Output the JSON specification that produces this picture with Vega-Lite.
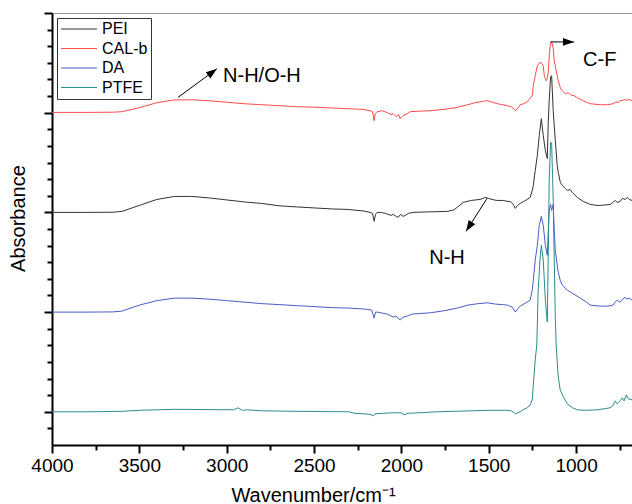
{
  "$schema": "https://vega.github.io/schema/vega-lite/v6.json",
  "width": 580,
  "height": 432,
  "autosize": {"type": "none"},
  "padding": {"left": 52, "top": 13, "right": 0, "bottom": 59},
  "background": "white",
  "config": {
    "view": {"stroke": "#999999", "strokeWidth": 1},
    "font": "Liberation Sans",
    "legend": {
      "orient": "none",
      "legendX": 5,
      "legendY": 5,
      "title": null,
      "symbolType": "stroke",
      "symbolSize": 1296,
      "symbolStrokeWidth": 1.2,
      "clipHeight": 16,
      "rowPadding": 3.5,
      "padding": 3,
      "labelOffset": 4,
      "labelFont": "Liberation Sans",
      "labelFontSize": 16,
      "labelColor": "black",
      "strokeColor": "#333333",
      "fillColor": "white"
    }
  },
  "datasets": {
    "spectra": [
      {"s":"PEI","x":4000,"y":2.00},{"s":"PEI","x":3800,"y":2.00},{"s":"PEI","x":3650,"y":2.002},{"s":"PEI","x":3600,"y":2.01},{"s":"PEI","x":3500,"y":2.07},{"s":"PEI","x":3400,"y":2.13},{"s":"PEI","x":3300,"y":2.16},{"s":"PEI","x":3200,"y":2.16},{"s":"PEI","x":3100,"y":2.145},{"s":"PEI","x":3000,"y":2.125},{"s":"PEI","x":2900,"y":2.105},{"s":"PEI","x":2800,"y":2.09},{"s":"PEI","x":2694,"y":2.065},{"s":"PEI","x":2600,"y":2.055},{"s":"PEI","x":2500,"y":2.045},{"s":"PEI","x":2400,"y":2.035},{"s":"PEI","x":2311,"y":2.03},{"s":"PEI","x":2220,"y":2.015},{"s":"PEI","x":2180,"y":2.00},{"s":"PEI","x":2165,"y":1.99},{"s":"PEI","x":2156,"y":1.91},{"s":"PEI","x":2148,"y":1.98},{"s":"PEI","x":2139,"y":2.00},{"s":"PEI","x":2122,"y":2.00},{"s":"PEI","x":2090,"y":1.99},{"s":"PEI","x":2060,"y":1.97},{"s":"PEI","x":2047,"y":1.98},{"s":"PEI","x":2030,"y":1.96},{"s":"PEI","x":2018,"y":1.95},{"s":"PEI","x":2005,"y":1.98},{"s":"PEI","x":1990,"y":1.96},{"s":"PEI","x":1978,"y":1.97},{"s":"PEI","x":1960,"y":1.99},{"s":"PEI","x":1933,"y":2.00},{"s":"PEI","x":1850,"y":2.005},{"s":"PEI","x":1738,"y":2.01},{"s":"PEI","x":1700,"y":2.025},{"s":"PEI","x":1681,"y":2.05},{"s":"PEI","x":1647,"y":2.10},{"s":"PEI","x":1600,"y":2.12},{"s":"PEI","x":1550,"y":2.13},{"s":"PEI","x":1520,"y":2.15},{"s":"PEI","x":1500,"y":2.14},{"s":"PEI","x":1470,"y":2.125},{"s":"PEI","x":1452,"y":2.12},{"s":"PEI","x":1420,"y":2.12},{"s":"PEI","x":1390,"y":2.11},{"s":"PEI","x":1377,"y":2.11},{"s":"PEI","x":1360,"y":2.08},{"s":"PEI","x":1348,"y":2.04},{"s":"PEI","x":1335,"y":2.07},{"s":"PEI","x":1320,"y":2.09},{"s":"PEI","x":1300,"y":2.11},{"s":"PEI","x":1280,"y":2.13},{"s":"PEI","x":1263,"y":2.15},{"s":"PEI","x":1251,"y":2.22},{"s":"PEI","x":1245,"y":2.27},{"s":"PEI","x":1234,"y":2.42},{"s":"PEI","x":1222,"y":2.57},{"s":"PEI","x":1211,"y":2.77},{"s":"PEI","x":1199,"y":2.94},{"s":"PEI","x":1188,"y":2.77},{"s":"PEI","x":1176,"y":2.62},{"s":"PEI","x":1165,"y":2.54},{"s":"PEI","x":1159,"y":2.92},{"s":"PEI","x":1154,"y":3.12},{"s":"PEI","x":1146,"y":3.36},{"s":"PEI","x":1140,"y":3.37},{"s":"PEI","x":1131,"y":3.02},{"s":"PEI","x":1119,"y":2.72},{"s":"PEI","x":1108,"y":2.47},{"s":"PEI","x":1102,"y":2.40},{"s":"PEI","x":1090,"y":2.30},{"s":"PEI","x":1079,"y":2.27},{"s":"PEI","x":1062,"y":2.24},{"s":"PEI","x":1050,"y":2.22},{"s":"PEI","x":1035,"y":2.23},{"s":"PEI","x":1022,"y":2.20},{"s":"PEI","x":993,"y":2.15},{"s":"PEI","x":959,"y":2.11},{"s":"PEI","x":919,"y":2.08},{"s":"PEI","x":880,"y":2.07},{"s":"PEI","x":862,"y":2.07},{"s":"PEI","x":805,"y":2.08},{"s":"PEI","x":790,"y":2.10},{"s":"PEI","x":776,"y":2.12},{"s":"PEI","x":765,"y":2.10},{"s":"PEI","x":748,"y":2.11},{"s":"PEI","x":735,"y":2.14},{"s":"PEI","x":720,"y":2.13},{"s":"PEI","x":708,"y":2.15},{"s":"PEI","x":695,"y":2.13},{"s":"PEI","x":680,"y":2.12},

      {"s":"CAL-b","x":4000,"y":3.003},{"s":"CAL-b","x":3800,"y":3.003},{"s":"CAL-b","x":3650,"y":3.005},{"s":"CAL-b","x":3600,"y":3.01},{"s":"CAL-b","x":3500,"y":3.05},{"s":"CAL-b","x":3400,"y":3.10},{"s":"CAL-b","x":3300,"y":3.128},{"s":"CAL-b","x":3200,"y":3.13},{"s":"CAL-b","x":3100,"y":3.12},{"s":"CAL-b","x":3000,"y":3.105},{"s":"CAL-b","x":2900,"y":3.09},{"s":"CAL-b","x":2800,"y":3.08},{"s":"CAL-b","x":2700,"y":3.07},{"s":"CAL-b","x":2600,"y":3.06},{"s":"CAL-b","x":2500,"y":3.055},{"s":"CAL-b","x":2400,"y":3.047},{"s":"CAL-b","x":2300,"y":3.04},{"s":"CAL-b","x":2220,"y":3.033},{"s":"CAL-b","x":2180,"y":3.02},{"s":"CAL-b","x":2165,"y":3.01},{"s":"CAL-b","x":2156,"y":2.92},{"s":"CAL-b","x":2150,"y":2.99},{"s":"CAL-b","x":2139,"y":3.01},{"s":"CAL-b","x":2110,"y":3.02},{"s":"CAL-b","x":2080,"y":3.00},{"s":"CAL-b","x":2060,"y":2.98},{"s":"CAL-b","x":2047,"y":2.99},{"s":"CAL-b","x":2030,"y":2.96},{"s":"CAL-b","x":2015,"y":2.98},{"s":"CAL-b","x":2007,"y":2.94},{"s":"CAL-b","x":1990,"y":2.97},{"s":"CAL-b","x":1967,"y":2.99},{"s":"CAL-b","x":1950,"y":3.01},{"s":"CAL-b","x":1900,"y":3.015},{"s":"CAL-b","x":1835,"y":3.02},{"s":"CAL-b","x":1750,"y":3.035},{"s":"CAL-b","x":1681,"y":3.053},{"s":"CAL-b","x":1620,"y":3.08},{"s":"CAL-b","x":1580,"y":3.10},{"s":"CAL-b","x":1530,"y":3.115},{"s":"CAL-b","x":1509,"y":3.12},{"s":"CAL-b","x":1480,"y":3.105},{"s":"CAL-b","x":1450,"y":3.09},{"s":"CAL-b","x":1420,"y":3.08},{"s":"CAL-b","x":1394,"y":3.07},{"s":"CAL-b","x":1370,"y":3.06},{"s":"CAL-b","x":1348,"y":3.02},{"s":"CAL-b","x":1330,"y":3.05},{"s":"CAL-b","x":1320,"y":3.08},{"s":"CAL-b","x":1300,"y":3.09},{"s":"CAL-b","x":1280,"y":3.11},{"s":"CAL-b","x":1265,"y":3.14},{"s":"CAL-b","x":1251,"y":3.17},{"s":"CAL-b","x":1245,"y":3.27},{"s":"CAL-b","x":1234,"y":3.37},{"s":"CAL-b","x":1222,"y":3.47},{"s":"CAL-b","x":1210,"y":3.50},{"s":"CAL-b","x":1200,"y":3.503},{"s":"CAL-b","x":1188,"y":3.47},{"s":"CAL-b","x":1182,"y":3.37},{"s":"CAL-b","x":1171,"y":3.32},{"s":"CAL-b","x":1165,"y":3.34},{"s":"CAL-b","x":1159,"y":3.42},{"s":"CAL-b","x":1154,"y":3.57},{"s":"CAL-b","x":1146,"y":3.71},{"s":"CAL-b","x":1140,"y":3.71},{"s":"CAL-b","x":1131,"y":3.65},{"s":"CAL-b","x":1125,"y":3.52},{"s":"CAL-b","x":1114,"y":3.42},{"s":"CAL-b","x":1102,"y":3.32},{"s":"CAL-b","x":1090,"y":3.25},{"s":"CAL-b","x":1079,"y":3.22},{"s":"CAL-b","x":1062,"y":3.19},{"s":"CAL-b","x":1045,"y":3.20},{"s":"CAL-b","x":1033,"y":3.18},{"s":"CAL-b","x":1010,"y":3.17},{"s":"CAL-b","x":993,"y":3.15},{"s":"CAL-b","x":959,"y":3.12},{"s":"CAL-b","x":919,"y":3.09},{"s":"CAL-b","x":862,"y":3.08},{"s":"CAL-b","x":820,"y":3.08},{"s":"CAL-b","x":788,"y":3.09},{"s":"CAL-b","x":770,"y":3.11},{"s":"CAL-b","x":760,"y":3.10},{"s":"CAL-b","x":748,"y":3.12},{"s":"CAL-b","x":735,"y":3.125},{"s":"CAL-b","x":720,"y":3.13},{"s":"CAL-b","x":708,"y":3.125},{"s":"CAL-b","x":695,"y":3.135},{"s":"CAL-b","x":680,"y":3.12},

      {"s":"DA","x":4000,"y":1.00},{"s":"DA","x":3800,"y":1.00},{"s":"DA","x":3650,"y":1.002},{"s":"DA","x":3600,"y":1.01},{"s":"DA","x":3500,"y":1.07},{"s":"DA","x":3400,"y":1.115},{"s":"DA","x":3300,"y":1.14},{"s":"DA","x":3200,"y":1.14},{"s":"DA","x":3100,"y":1.13},{"s":"DA","x":3000,"y":1.115},{"s":"DA","x":2900,"y":1.10},{"s":"DA","x":2800,"y":1.085},{"s":"DA","x":2700,"y":1.075},{"s":"DA","x":2600,"y":1.065},{"s":"DA","x":2500,"y":1.055},{"s":"DA","x":2400,"y":1.045},{"s":"DA","x":2300,"y":1.04},{"s":"DA","x":2207,"y":1.03},{"s":"DA","x":2170,"y":1.02},{"s":"DA","x":2156,"y":0.94},{"s":"DA","x":2148,"y":1.00},{"s":"DA","x":2139,"y":1.00},{"s":"DA","x":2110,"y":0.99},{"s":"DA","x":2080,"y":0.98},{"s":"DA","x":2047,"y":0.95},{"s":"DA","x":2030,"y":0.96},{"s":"DA","x":2007,"y":0.92},{"s":"DA","x":1990,"y":0.95},{"s":"DA","x":1967,"y":0.96},{"s":"DA","x":1940,"y":0.98},{"s":"DA","x":1900,"y":0.985},{"s":"DA","x":1835,"y":0.993},{"s":"DA","x":1750,"y":1.015},{"s":"DA","x":1681,"y":1.04},{"s":"DA","x":1620,"y":1.07},{"s":"DA","x":1560,"y":1.085},{"s":"DA","x":1509,"y":1.093},{"s":"DA","x":1460,"y":1.08},{"s":"DA","x":1420,"y":1.075},{"s":"DA","x":1394,"y":1.07},{"s":"DA","x":1365,"y":1.05},{"s":"DA","x":1348,"y":1.00},{"s":"DA","x":1330,"y":1.04},{"s":"DA","x":1320,"y":1.06},{"s":"DA","x":1290,"y":1.09},{"s":"DA","x":1263,"y":1.12},{"s":"DA","x":1251,"y":1.22},{"s":"DA","x":1245,"y":1.32},{"s":"DA","x":1234,"y":1.52},{"s":"DA","x":1222,"y":1.67},{"s":"DA","x":1211,"y":1.87},{"s":"DA","x":1199,"y":1.96},{"s":"DA","x":1188,"y":1.87},{"s":"DA","x":1176,"y":1.67},{"s":"DA","x":1165,"y":1.57},{"s":"DA","x":1159,"y":1.82},{"s":"DA","x":1154,"y":2.02},{"s":"DA","x":1146,"y":2.08},{"s":"DA","x":1140,"y":2.02},{"s":"DA","x":1131,"y":2.08},{"s":"DA","x":1125,"y":1.82},{"s":"DA","x":1119,"y":1.62},{"s":"DA","x":1108,"y":1.47},{"s":"DA","x":1102,"y":1.40},{"s":"DA","x":1091,"y":1.32},{"s":"DA","x":1079,"y":1.27},{"s":"DA","x":1050,"y":1.22},{"s":"DA","x":1022,"y":1.19},{"s":"DA","x":976,"y":1.14},{"s":"DA","x":940,"y":1.10},{"s":"DA","x":919,"y":1.07},{"s":"DA","x":862,"y":1.06},{"s":"DA","x":820,"y":1.06},{"s":"DA","x":788,"y":1.07},{"s":"DA","x":776,"y":1.10},{"s":"DA","x":765,"y":1.12},{"s":"DA","x":750,"y":1.10},{"s":"DA","x":736,"y":1.12},{"s":"DA","x":720,"y":1.15},{"s":"DA","x":710,"y":1.13},{"s":"DA","x":695,"y":1.14},{"s":"DA","x":680,"y":1.12},

      {"s":"PTFE","x":4000,"y":0.0},{"s":"PTFE","x":3800,"y":0.0},{"s":"PTFE","x":3600,"y":0.005},{"s":"PTFE","x":3500,"y":0.015},{"s":"PTFE","x":3400,"y":0.02},{"s":"PTFE","x":3300,"y":0.025},{"s":"PTFE","x":3100,"y":0.022},{"s":"PTFE","x":2960,"y":0.02},{"s":"PTFE","x":2935,"y":0.04},{"s":"PTFE","x":2910,"y":0.015},{"s":"PTFE","x":2880,"y":0.02},{"s":"PTFE","x":2800,"y":0.01},{"s":"PTFE","x":2600,"y":0.005},{"s":"PTFE","x":2400,"y":0.002},{"s":"PTFE","x":2300,"y":0.0},{"s":"PTFE","x":2270,"y":-0.015},{"s":"PTFE","x":2220,"y":-0.02},{"s":"PTFE","x":2180,"y":-0.025},{"s":"PTFE","x":2160,"y":-0.04},{"s":"PTFE","x":2150,"y":-0.02},{"s":"PTFE","x":2100,"y":-0.015},{"s":"PTFE","x":2050,"y":-0.01},{"s":"PTFE","x":2000,"y":-0.01},{"s":"PTFE","x":1985,"y":-0.03},{"s":"PTFE","x":1960,"y":-0.015},{"s":"PTFE","x":1900,"y":-0.01},{"s":"PTFE","x":1800,"y":0.0},{"s":"PTFE","x":1700,"y":0.005},{"s":"PTFE","x":1600,"y":0.01},{"s":"PTFE","x":1500,"y":0.015},{"s":"PTFE","x":1400,"y":0.015},{"s":"PTFE","x":1370,"y":0.01},{"s":"PTFE","x":1348,"y":-0.02},{"s":"PTFE","x":1320,"y":0.0},{"s":"PTFE","x":1303,"y":0.02},{"s":"PTFE","x":1280,"y":0.04},{"s":"PTFE","x":1263,"y":0.07},{"s":"PTFE","x":1251,"y":0.12},{"s":"PTFE","x":1245,"y":0.27},{"s":"PTFE","x":1234,"y":0.52},{"s":"PTFE","x":1225,"y":0.67},{"s":"PTFE","x":1217,"y":1.22},{"s":"PTFE","x":1205,"y":1.57},{"s":"PTFE","x":1199,"y":1.67},{"s":"PTFE","x":1188,"y":1.52},{"s":"PTFE","x":1176,"y":1.12},{"s":"PTFE","x":1165,"y":0.90},{"s":"PTFE","x":1159,"y":1.62},{"s":"PTFE","x":1154,"y":2.32},{"s":"PTFE","x":1146,"y":2.70},{"s":"PTFE","x":1140,"y":2.70},{"s":"PTFE","x":1131,"y":2.12},{"s":"PTFE","x":1125,"y":1.52},{"s":"PTFE","x":1119,"y":0.95},{"s":"PTFE","x":1114,"y":0.67},{"s":"PTFE","x":1108,"y":0.50},{"s":"PTFE","x":1102,"y":0.35},{"s":"PTFE","x":1091,"y":0.22},{"s":"PTFE","x":1073,"y":0.15},{"s":"PTFE","x":1051,"y":0.08},{"s":"PTFE","x":1020,"y":0.04},{"s":"PTFE","x":993,"y":0.02},{"s":"PTFE","x":950,"y":0.015},{"s":"PTFE","x":879,"y":0.02},{"s":"PTFE","x":840,"y":0.03},{"s":"PTFE","x":805,"y":0.04},{"s":"PTFE","x":790,"y":0.06},{"s":"PTFE","x":776,"y":0.11},{"s":"PTFE","x":765,"y":0.08},{"s":"PTFE","x":759,"y":0.09},{"s":"PTFE","x":748,"y":0.11},{"s":"PTFE","x":736,"y":0.14},{"s":"PTFE","x":725,"y":0.11},{"s":"PTFE","x":713,"y":0.17},{"s":"PTFE","x":700,"y":0.13},{"s":"PTFE","x":680,"y":0.12}
    ],
    "arrows": [
      {"id":"a1","x":3279,"y":3.153,"x2":3056,"y2":3.44},
      {"id":"a2","x":1144,"y":3.71,"x2":1012,"y2":3.71},
      {"id":"a3","x":1510,"y":2.14,"x2":1630,"y2":1.81}
    ],
    "labels": [
      {"t":"N-H/O-H","x":3021,"y":3.37},
      {"t":"C-F","x":960,"y":3.527},
      {"t":"N-H","x":1739,"y":1.54}
    ]
  },
  "resolve": {"axis": {"x": "independent", "y": "independent"}},
  "layer": [
    {
      "data": {"name": "spectra"},
      "mark": {"type": "line", "strokeWidth": 1, "interpolate": "linear"},
      "encoding": {
        "x": {
          "field": "x", "type": "quantitative",
          "scale": {"domain": [680, 4000], "reverse": true, "nice": false, "zero": false},
          "axis": {
            "orient": "bottom",
            "values": [4000, 3500, 3000, 2500, 2000, 1500, 1000],
            "format": "d",
            "grid": false,
            "domainColor": "black", "domainWidth": 2,
            "tickColor": "black", "tickWidth": 2, "tickSize": 8,
            "labelFont": "Liberation Sans", "labelFontSize": 19, "labelColor": "black", "labelPadding": 3,
            "labelFlush": false, "labelOverlap": false,
            "title": "Wavenumber/cm⁻¹",
            "titleFont": "Liberation Sans", "titleFontSize": 20, "titleFontWeight": "normal", "titleColor": "black",
            "titleX": 261, "titleY": 56, "titleAlign": "center", "titleBaseline": "alphabetic"
          }
        },
        "y": {
          "field": "y", "type": "quantitative",
          "scale": {"domain": [-0.333, 4], "nice": false, "zero": false},
          "axis": {
            "orient": "left",
            "values": [0, 1, 2, 3, 4],
            "labels": false,
            "grid": false,
            "domainColor": "black", "domainWidth": 2,
            "tickColor": "black", "tickWidth": 2, "tickSize": 8,
            "title": "Absorbance",
            "titleFont": "Liberation Sans", "titleFontSize": 20, "titleFontWeight": "normal", "titleColor": "black",
            "titleX": -34, "titleY": 205, "titleAlign": "center", "titleBaseline": "middle", "titleAngle": -90
          }
        },
        "color": {
          "field": "s", "type": "nominal",
          "scale": {"domain": ["PEI", "CAL-b", "DA", "PTFE"], "range": ["#333333", "#ff4a4a", "#4a5cc8", "#2b8c8c"]},
          "legend": {}
        },
        "order": {"field": "x", "type": "quantitative"}
      }
    },
    {
      "data": {"name": "arrows"},
      "mark": {"type": "rule", "color": "black", "strokeWidth": 1},
      "encoding": {
        "x": {
          "field": "x", "type": "quantitative",
          "axis": {
            "orient": "bottom",
            "values": [3750, 3250, 2750, 2250, 1750, 1250, 750],
            "labels": false, "domain": false, "grid": false,
            "tickColor": "black", "tickWidth": 2, "tickSize": 5, "title": null
          }
        },
        "y": {
          "field": "y", "type": "quantitative",
          "axis": {
            "orient": "left",
            "values": [-0.1667, 0.1667, 0.3333, 0.5, 0.6667, 0.8333, 1.1667, 1.3333, 1.5, 1.6667, 1.8333, 2.1667, 2.3333, 2.5, 2.6667, 2.8333, 3.1667, 3.3333, 3.5, 3.6667, 3.8333],
            "labels": false, "domain": false, "grid": false,
            "tickColor": "black", "tickWidth": 2, "tickSize": 5, "title": null
          }
        },
        "x2": {"field": "x2"},
        "y2": {"field": "y2"}
      }
    },
    {
      "data": {"name": "arrows"},
      "transform": [{"filter": "datum.id == 'a1'"}],
      "mark": {"type": "point", "shape": "M0,0 L0.35,1 L-0.35,1 Z", "size": 484, "filled": true, "color": "black", "opacity": 1, "angle": 53.6},
      "encoding": {
        "x": {"field": "x2", "type": "quantitative", "axis": null},
        "y": {"field": "y2", "type": "quantitative", "axis": null}
      }
    },
    {
      "data": {"name": "arrows"},
      "transform": [{"filter": "datum.id == 'a2'"}],
      "mark": {"type": "point", "shape": "M0,0 L0.35,1 L-0.35,1 Z", "size": 484, "filled": true, "color": "black", "opacity": 1, "angle": 90},
      "encoding": {
        "x": {"field": "x2", "type": "quantitative", "axis": null},
        "y": {"field": "y2", "type": "quantitative", "axis": null}
      }
    },
    {
      "data": {"name": "arrows"},
      "transform": [{"filter": "datum.id == 'a3'"}],
      "mark": {"type": "point", "shape": "M0,0 L0.35,1 L-0.35,1 Z", "size": 484, "filled": true, "color": "black", "opacity": 1, "angle": 212.5},
      "encoding": {
        "x": {"field": "x2", "type": "quantitative", "axis": null},
        "y": {"field": "y2", "type": "quantitative", "axis": null}
      }
    },
    {
      "data": {"name": "labels"},
      "transform": [{"filter": "datum.t != 'N-H'"}],
      "mark": {"type": "text", "font": "Liberation Sans", "fontSize": 20, "color": "black", "align": "left", "baseline": "middle"},
      "encoding": {
        "x": {"field": "x", "type": "quantitative", "axis": null},
        "y": {"field": "y", "type": "quantitative", "axis": null},
        "text": {"field": "t"}
      }
    },
    {
      "data": {"name": "labels"},
      "transform": [{"filter": "datum.t == 'N-H'"}],
      "mark": {"type": "text", "font": "Liberation Sans", "fontSize": 20, "color": "black", "align": "center", "baseline": "middle"},
      "encoding": {
        "x": {"field": "x", "type": "quantitative", "axis": null},
        "y": {"field": "y", "type": "quantitative", "axis": null},
        "text": {"field": "t"}
      }
    }
  ]
}
